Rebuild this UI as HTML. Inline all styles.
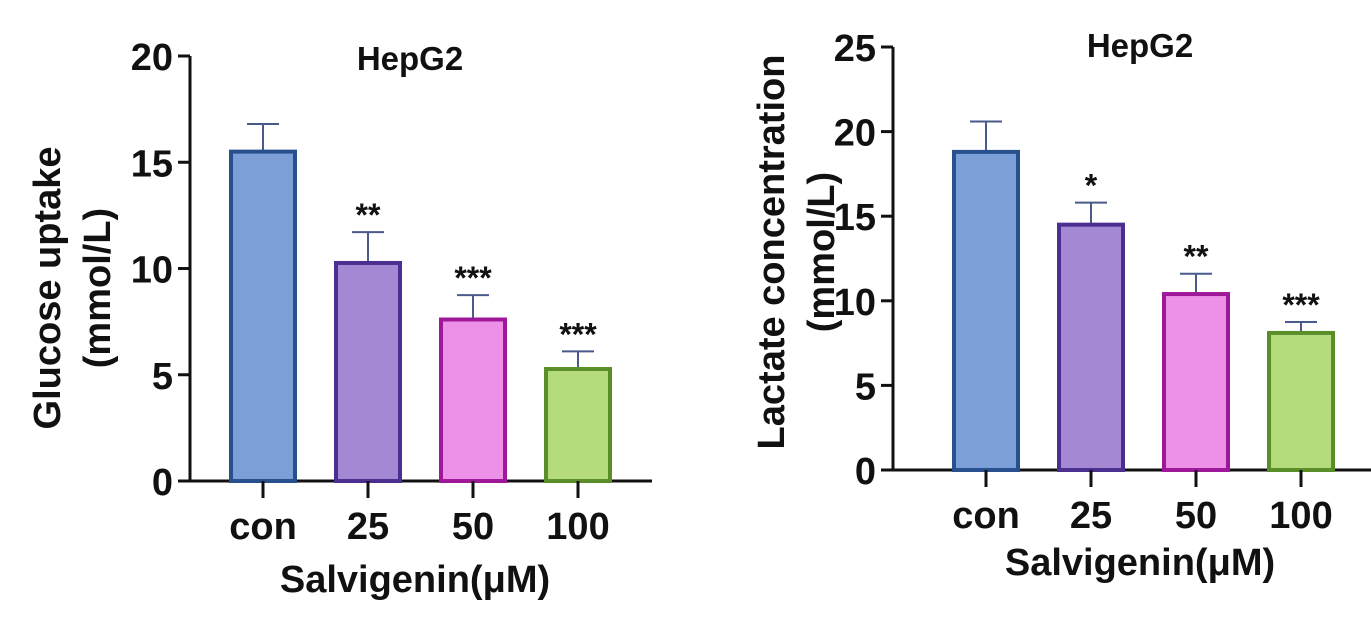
<!DOCTYPE html>
<html><head><meta charset="utf-8"><style>
html,body{margin:0;padding:0;background:#fff;width:1371px;height:626px;overflow:hidden}
svg text{font-family:"Liberation Sans",Arial,sans-serif;font-weight:bold;fill:#111}
</style></head><body>
<svg id="chart" width="1371" height="626" viewBox="0 0 1371 626" xmlns="http://www.w3.org/2000/svg"></svg>
<script>
const categories = ["con","25","50","100"];
const glucoseValues = [15.5, 10.26, 7.6, 5.27];
const glucoseErrors = [1.3, 1.45, 1.15, 0.83];
const glucoseSig = ["", "**", "***", "***"];
const glucoseTicks = [0,5,10,15,20];
const lactateValues = [18.8, 14.5, 10.4, 8.1];
const lactateErrors = [1.8, 1.3, 1.2, 0.65];
const lactateSig = ["", "*", "**", "***"];
const lactateTicks = [0,5,10,15,20,25];
const fills = ["#7b9fd6","#a488d4","#ec90e8","#b5dc7c"];
const strokes = ["#28508e","#4a2e90","#a0189a","#5a8e28"];
const NS="http://www.w3.org/2000/svg";
const svg=document.getElementById('chart');
function mk(tag,attrs,parent){const e=document.createElementNS(NS,tag);for(const k in attrs)e.setAttribute(k,attrs[k]);(parent||svg).appendChild(e);return e;}
function panel(cfg){
  const g=mk('g',{});
  
  
  const y=v=>cfg.y0-(v/cfg.max)*(cfg.y0-cfg.yTop);
  const x=i=>cfg.x0+i*cfg.step;
  const ax=mk('line',{x1:cfg.ax,y1:y(cfg.max),x2:cfg.ax,y2:cfg.y0+1.5,stroke:'#111','stroke-width':3},g);
  
  
  const xl=mk('line',{x1:cfg.ax-12,y1:cfg.y0,x2:cfg.xEnd,y2:cfg.y0,stroke:'#111','stroke-width':3},g);
  
  
  cfg.ticks.forEach(t=>{
    mk('line',{x1:cfg.ax-12,y1:y(t),x2:cfg.ax,y2:y(t),stroke:'#111','stroke-width':3},g);
    const tl=mk('text',{x:cfg.ax-17,y:y(t)+14,'text-anchor':'end','font-size':38},g);
    tl.textContent=t;
    
    
  });
  cfg.vals.forEach((v,i)=>{
    const cx=x(i);
    const et=y(v+cfg.errs[i]);
    mk('line',{x1:cx,y1:y(v),x2:cx,y2:et,stroke:'#4a5a8a','stroke-width':2},g);
    mk('line',{x1:cx-16,y1:et,x2:cx+16,y2:et,stroke:'#4a5a8a','stroke-width':2},g);
    const b=mk('rect',{x:cx-32,y:y(v),width:64,height:cfg.y0-y(v),fill:fills[i],stroke:strokes[i],'stroke-width':4},g);
    
    
    if(cfg.sig[i]){
      const s=mk('text',{x:cx,y:et-6,'text-anchor':'middle','font-size':32,'font-weight':'normal'},g);
      s.textContent=cfg.sig[i];
      
      
    }
    mk('line',{x1:cx,y1:cfg.y0,x2:cx,y2:cfg.y0+17,stroke:'#111','stroke-width':3},g);
    const l=mk('text',{x:cx,y:cfg.y0+58,'text-anchor':'middle','font-size':38},g);
    l.textContent=categories[i];
    
    
  });
  const t=mk('text',{x:cfg.titleX,y:cfg.titleY,'text-anchor':'middle','font-size':33},g);
  t.textContent='HepG2';
  
  
  const xt=mk('text',{x:cfg.xtX,y:cfg.xtY,'text-anchor':'middle','font-size':38},g);
  xt.textContent='Salvigenin(\u03bcM)';
  
  
  const yt=mk('text',{transform:`translate(${cfg.ytX},${cfg.ytY}) rotate(-90)`,'text-anchor':'middle','font-size':38},g);
  yt.textContent=cfg.ytitle;
  
  
  const yt2=mk('text',{transform:`translate(${cfg.ytX+50},${cfg.ytY}) rotate(-90)`,'text-anchor':'middle','font-size':38},g);
  yt2.textContent='(mmol/L)';
  
  
}
panel({name:'glucose-chart',ax:190,y0:481,yTop:56,max:20,x0:263,step:105,xEnd:652,ticks:glucoseTicks,vals:glucoseValues,errs:glucoseErrors,sig:glucoseSig,titleX:410,titleY:70,xtX:415,xtY:592,ytX:60,ytY:288,ytitle:'Glucose uptake'});
panel({name:'lactate-chart',ax:893,y0:470,yTop:47,max:25,x0:986,step:105,xEnd:1371,ticks:lactateTicks,vals:lactateValues,errs:lactateErrors,sig:lactateSig,titleX:1140,titleY:57,xtX:1140,xtY:575,ytX:784,ytY:252,ytitle:'Lactate concentration'});
</script>
</body></html>
